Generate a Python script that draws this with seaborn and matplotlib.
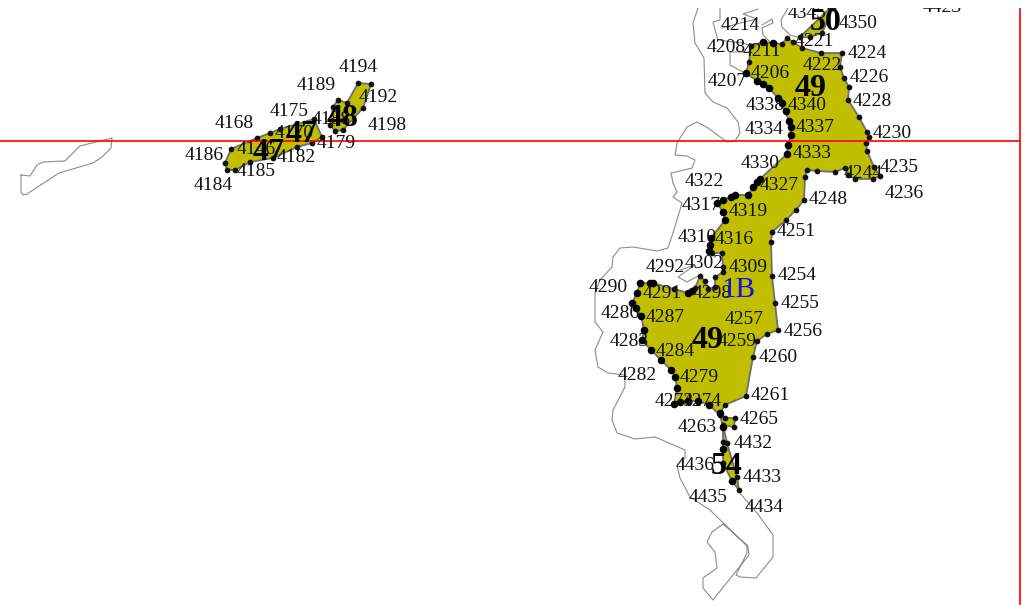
# Map of numbered coastal segments, coordinates
import pandas as pd
import matplotlib
matplotlib.use('Agg')
import matplotlib.pyplot as plt
import seaborn as sns

main_x = [751,763,773,782,787,793,802,821,842,840,844,849,848,859,867,869,866,867,874,880,873,855,848,845,835,817,807,805,804,796,786,772,771,772,775,778,767,757,753,746,725,720,725,735,734,723,727,737,739,732,723,723,723,723,720,709,698,688,680,674,677,675,671,661,651,642,644,641,636,632,637,640,653,674,688,695,700,705,708,715,715,723,723,722,712,710,711,725,723,717,723,735,748,753,760,787,788,791,789,782,778,769,757,746,749]
main_y = [46,42,43,44,38,42,48,53,53,67,78,87,100,117,132,137,143,151,167,176,179,179,175,168,172,171,170,177,200,210,220,232,242,276,303,330,334,341,357,396,405,413,418,418,427,425,443,477,490,481,463,449,442,427,415,405,401,401,402,404,388,377,370,360,350,340,330,316,308,303,293,283,283,289,293,288,276,281,289,287,277,272,267,253,253,250,238,220,212,203,200,195,195,187,179,154,145,135,121,103,98,88,81,73,62]

seg50_x = [800,830,833,822,810]
seg50_y = [37,8,8,33,37]
seg47_x = [225,231,257,270,280,314,322,312,297,273,250,235,227]
seg47_y = [163,149,138,133,129,119,137,143,147,158,162,170,170]
seg48_x = [338,347,358,371,363,343,335,330,333]
seg48_y = [100,103,83,84,108,130,131,125,107]

big_x = [746,757,763,769,778,782,786,789,791,791,788,787,753,757,760,735,731,723,717,748,723,725,711,710,709,688,692,640,650,653,632,637,636,641,644,642,651,661,671,675,677,674,680,688,698,709,720,723,732,723,763,773]
big_y = [73,81,84,88,98,103,111,121,127,135,145,154,187,182,179,195,197,200,203,195,212,220,238,245,251,293,291,283,283,283,303,293,308,316,330,340,350,360,370,377,388,404,402,401,401,405,413,449,481,427,42,43]

coast_x = [698,693,695,704,705,713,727,738,740,735,727,708,697,687,677,675,687,695,692,680,671,673,677,673,682,673,668,657,633,620,613,612,600,595,595,603,595,598,608,625,625,613,612,617,635,655,685,685,677,680,690,710,748,749,713,703,703,717,715,707,712,723,747,747,736,740,756,773,773,757,739]
coast_y = [8,23,43,58,93,102,108,122,133,141,142,128,122,127,143,155,156,160,168,171,173,183,192,197,203,233,248,251,247,248,257,267,280,293,322,332,350,367,373,375,387,410,420,433,439,437,450,458,465,478,497,510,547,555,600,588,578,568,552,542,532,524,545,553,575,577,578,557,535,513,492]
west_x = [21,21,23,27,59,93,102,111,112,80,65,43,37,30,21]
west_y = [175,192,195,194,173,163,157,148,138,146,161,162,165,176,175]
inner_a_x = [720,720,713,717,718,743,751]
inner_a_y = [8,20,22,37,40,43,46]
inner_b_x = [751,730,730,743]
inner_b_y = [52,52,65,72]
inner_c_x = [758,743,757,740,722]
inner_c_y = [9,14,19,23,28]
inner_d_x = [770,763,762,773,772,762]
inner_d_y = [42,35,28,23,19,25]
inner_e_x = [788,781,782,790,800]
inner_e_y = [8,20,27,35,38]
inner_f_x = [700,687,678,695,680]
inner_f_y = [275,282,277,265,270]

labels = ['4214','4208','4211','4221','4224','4222','4206','4226','4207','4228','4338','4340','4334','4337','4230','4330','4333','4235','4244','4236','4322','4327','4248','4317','4319','4310','4316','4251','4292','4302','4309','4254','4290','4291','4298','4255','4286','4287','4257','4256','4283','4259','4284','4260','4279','4282','4261','4273','4274','4265','4263','4432','4436','4433','4435','4434','4350','4345','4423','4194','4189','4192','4175','4198','4168','4179','4186','4182','4185','4184','4146','4170','4188']
label_x = [739,725,761,813,866,821,769,868,726,871,764,806,763,814,891,759,811,898,862,903,703,778,827,700,747,696,733,795,664,703,747,796,607,661,711,799,619,664,743,802,628,736,674,777,698,636,769,673,701,758,696,752,694,761,707,763,857,806,941,357,315,377,288,386,233,335,203,295,255,212,255,293,330]
label_y = [25,47,50,41,53,64,72,77,81,100,104,104,128,127,132,162,153,166,172,192,181,184,199,204,211,237,239,231,266,262,267,275,286,293,292,302,313,316,318,330,340,341,350,356,376,375,395,400,400,418,427,443,465,477,497,506,23,13,7,67,85,97,111,124,122,143,155,157,171,185,148,133,118]

zones = ['50','49','49','54','47','47','48']
zone_x = [825,810,707,726,268,301,342]
zone_y = [20,86,338,465,150,132,116]

sns.set_style('white')
plt.rcParams['font.family'] = ['Liberation Serif', 'DejaVu Serif']

fig = plt.figure(figsize=(10.23, 6.05), dpi=100)
ax = fig.add_axes([0, 0, 1, 597 / 605])
ax.set_xlim(0, 1023)
ax.set_ylim(605, 8)
ax.axis('off')

# coast outlines
outlines = [(coast_x, coast_y), (west_x, west_y), (inner_a_x, inner_a_y), (inner_b_x, inner_b_y),
            (inner_c_x, inner_c_y), (inner_d_x, inner_d_y), (inner_e_x, inner_e_y), (inner_f_x, inner_f_y)]
for xs, ys in outlines:
    sns.lineplot(x=xs, y=ys, sort=False, estimator=None, color='#8c8c8c', lw=0.8, ax=ax)

# filled segments
polys = [(main_x, main_y), (seg50_x, seg50_y), (seg47_x, seg47_y), (seg48_x, seg48_y)]
for xs, ys in polys:
    ax.fill(xs, ys, facecolor='#bfbf00', edgecolor='#6e6e6e', lw=1.3, zorder=3)

# vertices
verts = pd.DataFrame({'x': main_x + seg50_x + seg47_x + seg48_x, 'y': main_y + seg50_y + seg47_y + seg48_y})
sns.scatterplot(data=verts, x='x', y='y', color='#111111', s=17, linewidth=0, ax=ax, zorder=4)
sns.scatterplot(x=big_x, y=big_y, color='black', s=30, linewidth=0, ax=ax, zorder=4)
ax.set_xlabel('')
ax.set_ylabel('')

# red grid lines
ax.hlines(141, 0, 1020, color='#ff0000', lw=1.2, zorder=5)
ax.vlines(1019.5, 8, 605, color='#ff0000', lw=1.2, zorder=5)

for t, x, y in zip(labels, label_x, label_y):
    ax.text(x + 1, y + 1, t, fontsize=14, color='#111111', ha='center', va='center', zorder=6, clip_on=True)
for t, x, y in zip(zones, zone_x, zone_y):
    ax.text(x + 1, y + 2, t, fontsize=23, fontweight='bold', color='black', ha='center', va='center', zorder=7, clip_on=True)
ax.text(738, 290, '1B', fontsize=21, color='#1010e0', ha='center', va='center', zorder=7)

fig.savefig('out.png', dpi=100)
